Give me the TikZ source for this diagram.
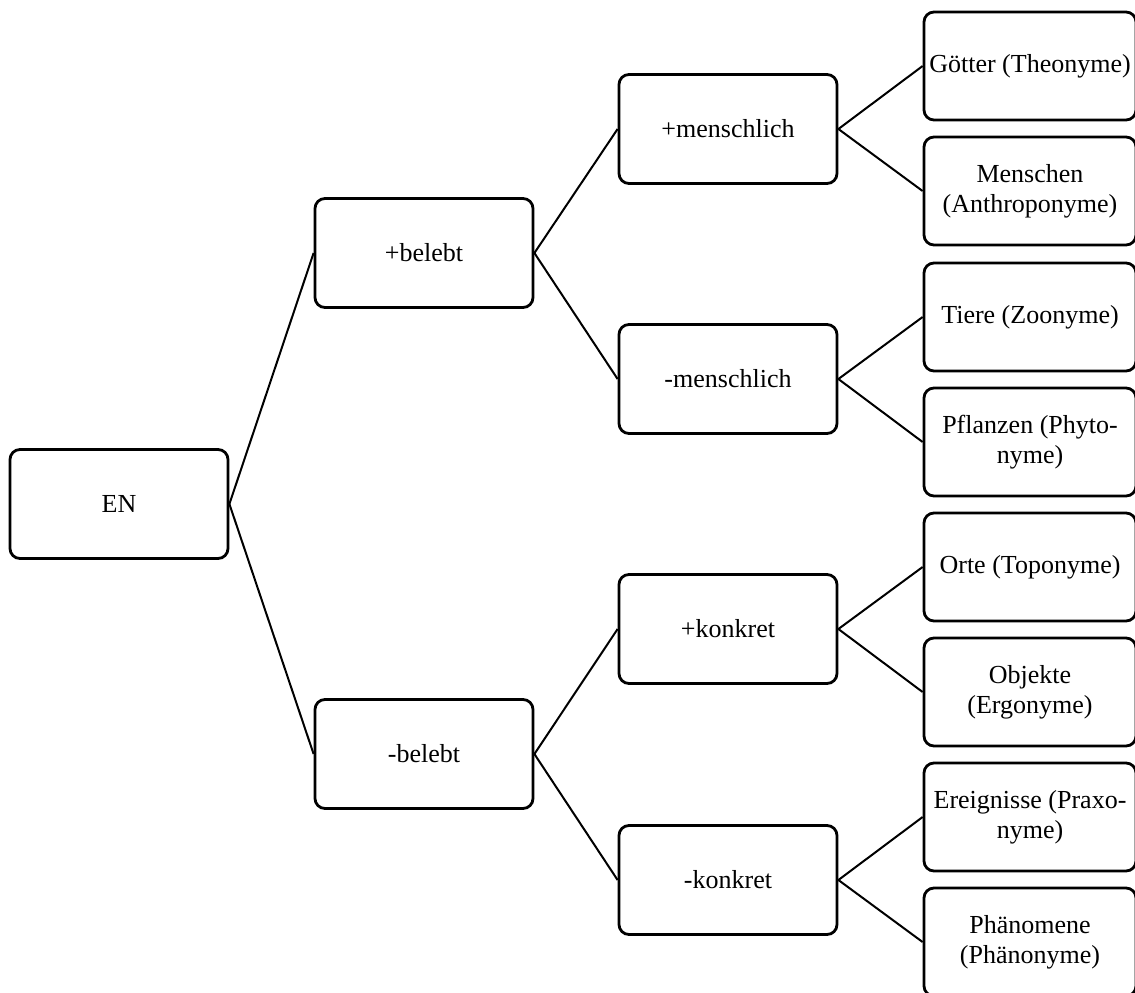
\documentclass[tikz,border=0pt]{standalone}
\usepackage{fontspec}
\setmainfont{Liberation Serif}

\tikzset{
	catbox/.style={draw, rounded corners=5pt, line width=1.4pt, minimum width=109pt, minimum height=54.5pt, inner sep=0pt, align=center},
	leafbox/.style={catbox, minimum width=106pt, minimum height=54pt},
	branch/.style={line width=1pt}
}

\begin{document}
\begin{tikzpicture}[x=0.5pt, y=-0.5pt, font=\fontsize{13}{15}\selectfont]
	
	\useasboundingbox (0,0) rectangle (1135,992);
	\clip (0,0) rectangle (1135,992);
	
	% root
	\node[catbox] (en) at (119,504) {EN};
	
	% first level
	\node[catbox] (belebt)   at (424,253) {+belebt};
	\node[catbox] (unbelebt) at (424,754) {-belebt};
	
	% second level
	\node[catbox] (mensch)    at (728,129) {+menschlich};
	\node[catbox] (nichtmensch) at (728,379) {-menschlich};
	\node[catbox] (konkret)   at (728,629) {+konkret};
	\node[catbox] (abstrakt)  at (728,880) {-konkret};
	
	% leaves
	\node[leafbox] (goetter)   at (1030,66)  {Götter (Theonyme)};
	\node[leafbox] (menschen)  at (1030,191) {Menschen\\(Anthroponyme)};
	\node[leafbox] (tiere)     at (1030,317) {Tiere (Zoonyme)};
	\node[leafbox] (pflanzen)  at (1030,442) {Pflanzen (Phyto-\\nyme)};
	\node[leafbox] (orte)      at (1030,567) {Orte (Toponyme)};
	\node[leafbox] (objekte)   at (1030,692) {Objekte\\(Ergonyme)};
	\node[leafbox] (ereignisse) at (1030,817) {Ereignisse (Praxo-\\nyme)};
	\node[leafbox] (phaenomene) at (1030,942) {Phänomene\\(Phänonyme)};
	
	% draw branches
	\draw[branch] (en.east) -- (belebt.west);
	\draw[branch] (en.east) -- (unbelebt.west);
	
	\draw[branch] (belebt.east) -- (mensch.west);
	\draw[branch] (belebt.east) -- (nichtmensch.west);
	\draw[branch] (unbelebt.east) -- (konkret.west);
	\draw[branch] (unbelebt.east) -- (abstrakt.west);
	
	\draw[branch] (mensch.east) -- (goetter.west);
	\draw[branch] (mensch.east) -- (menschen.west);
	\draw[branch] (nichtmensch.east) -- (tiere.west);
	\draw[branch] (nichtmensch.east) -- (pflanzen.west);
	\draw[branch] (konkret.east) -- (orte.west);
	\draw[branch] (konkret.east) -- (objekte.west);
	\draw[branch] (abstrakt.east) -- (ereignisse.west);
	\draw[branch] (abstrakt.east) -- (phaenomene.west);
	
\end{tikzpicture}
\end{document}
